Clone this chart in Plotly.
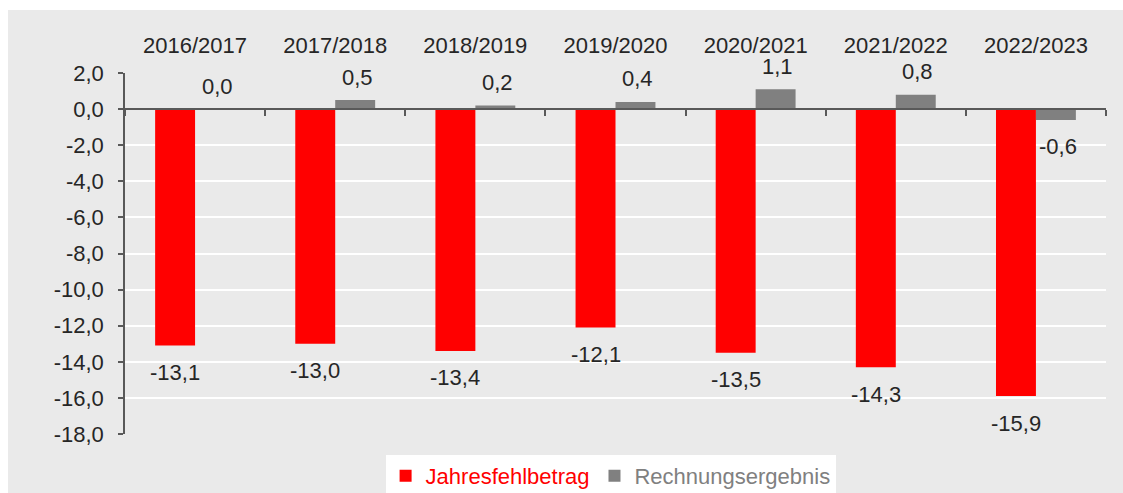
import plotly.graph_objects as go

# Geschäftsjahre und Ergebnisse (Mio. EUR)
jahre = ["2016/2017", "2017/2018", "2018/2019", "2019/2020",
         "2020/2021", "2021/2022", "2022/2023"]
jahresfehlbetrag = [-13.1, -13.0, -13.4, -12.1, -13.5, -14.3, -15.9]
rechnungsergebnis = [0.0, 0.5, 0.2, 0.4, 1.1, 0.8, -0.6]
y_ticks = [2, 0, -2, -4, -6, -8, -10, -12, -14, -16, -18]

ROT = "#ff0000"
GRAU = "#808080"
HINTERGRUND = "#eaeaea"
TEXT = "#262626"
FONT = "Liberation Sans, Arial, sans-serif"
FS = 22


def de(v):
    return f"{v:.1f}".replace(".", ",")


W, H = 1123, 493
L, R, T, B = 125, 17, 73, 59
pw, ph = W - L - R, H - T - B

fig = go.Figure()
fig.add_trace(go.Bar(
    x=jahre, y=jahresfehlbetrag, marker_color=ROT, marker_line_width=0,
    name=f"<span style='color:{ROT}'>Jahresfehlbetrag</span>",
    offsetgroup="a",
))
fig.add_trace(go.Bar(
    x=jahre, y=rechnungsergebnis, marker_color=GRAU, marker_line_width=0,
    name=f"<span style='color:{GRAU}'>Rechnungsergebnis</span>",
    offsetgroup="b",
))
# unsichtbare Hilfsspur für die Nulllinie mit Kategorie-Teilstrichen
fig.add_trace(go.Scatter(
    x=jahre, y=rechnungsergebnis, mode="none", xaxis="x2",
    showlegend=False, hoverinfo="skip",
))

# Datenbeschriftungen
cat_w = pw / len(jahre)
bar_w = cat_w * (1 - 0.43) / 2
annotations = []
for serie, shift_x in ((jahresfehlbetrag, -bar_w / 2), (rechnungsergebnis, bar_w / 2 + 2)):
    for j, v in zip(jahre, serie):
        annotations.append(dict(
            x=j, y=v, xref="x", yref="y", text=de(v), showarrow=False,
            xshift=shift_x, yshift=23 if v >= 0 else -27,
            font=dict(family=FONT, size=FS, color=TEXT),
        ))

# grauer Hintergrund der Grafik
shapes = [dict(
    type="rect", xref="paper", yref="paper", layer="below",
    x0=(8 - L) / pw, x1=(W - L) / pw,
    y0=-(H - (H - B)) / ph, y1=((H - B) - 10) / ph,
    fillcolor=HINTERGRUND, line_width=0,
)]

fig.update_layout(
    width=W, height=H,
    margin=dict(l=L, r=R, t=T, b=B, pad=0, autoexpand=False),
    paper_bgcolor="white", plot_bgcolor=HINTERGRUND,
    barmode="group", bargap=0.43, bargroupgap=0,
    font=dict(family=FONT, size=FS, color=TEXT),
    showlegend=True,
    legend=dict(
        orientation="h", x=0.495, xanchor="center",
        yref="container", y=1 - 455 / H, yanchor="top",
        bgcolor="white", font=dict(family=FONT, size=FS),
        itemwidth=30, tracegroupgap=0,
    ),
    annotations=annotations,
    shapes=shapes,
    xaxis=dict(
        type="category", categoryarray=jahre, side="top",
        showline=False, showgrid=False, zeroline=False,
        ticks="outside", ticklen=10, tickcolor="rgba(0,0,0,0)",
        tickfont=dict(family=FONT, size=FS, color=TEXT),
    ),
    xaxis2=dict(
        type="category", categoryarray=jahre, matches="x", overlaying="x",
        anchor="free", position=1 - 2 / 20,
        showticklabels=False, showgrid=False, zeroline=False,
        showline=True, linecolor="#595959", linewidth=1.5,
        ticks="outside", ticklen=6, tickwidth=1.5, tickcolor="#595959",
        tickson="boundaries",
    ),
    yaxis=dict(
        range=[-18, 2], tickvals=y_ticks, ticktext=[de(v) for v in y_ticks],
        showgrid=True, gridcolor="white", gridwidth=2,
        zeroline=False,
        showline=True, linecolor="#595959", linewidth=1.5,
        ticks="outside", ticklen=5, tickwidth=1.5, tickcolor="#595959",
        ticklabelstandoff=10,
        tickfont=dict(family=FONT, size=FS, color=TEXT),
    ),
)

fig.write_html("out.html")
